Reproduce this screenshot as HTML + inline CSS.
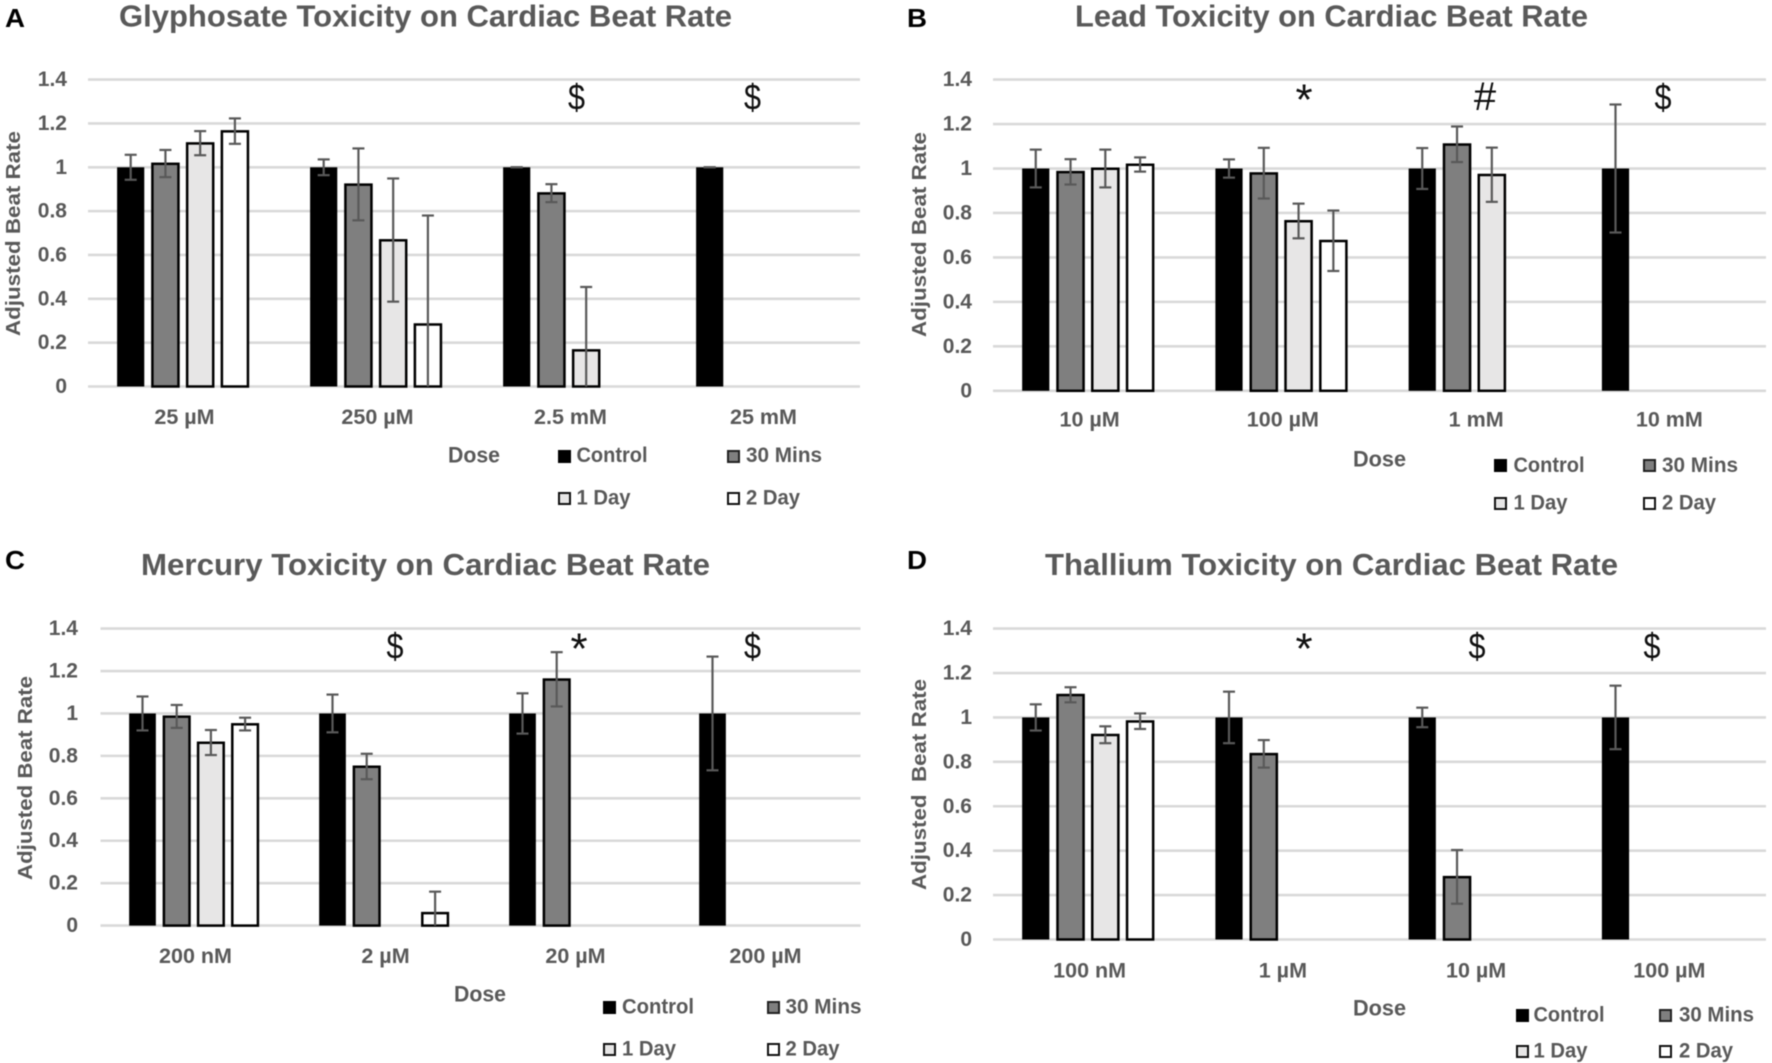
<!DOCTYPE html>
<html lang="en">
<head>
<meta charset="utf-8">
<title>Toxicity on Cardiac Beat Rate</title>
<style>
html,body{margin:0;padding:0;background:#fff}
svg{display:block;filter:blur(0.4px)}
text{font-family:"Liberation Sans",sans-serif}
.title{font-size:31px;font-weight:700;fill:#595959}
.letter{font-size:26px;font-weight:700;fill:#000}
.ytitle{font-size:20px;font-weight:700;fill:#595959}
.dose{font-size:22px;font-weight:700;fill:#595959;dominant-baseline:central}
.leg{font-size:21px;font-weight:700;fill:#595959;dominant-baseline:central}
.mark{font-size:36px;fill:#111;text-anchor:middle;dominant-baseline:central}
.star{font-size:44px;fill:#111;text-anchor:middle;dominant-baseline:central}
.hash{font-size:40px;fill:#111;text-anchor:middle;dominant-baseline:central}
.tick{font-size:21px;font-weight:700;fill:#595959;dominant-baseline:central}
.cat{font-size:21.5px;font-weight:700;fill:#595959;dominant-baseline:central;text-anchor:middle}
</style>
</head>
<body>
<svg id="figure" xmlns="http://www.w3.org/2000/svg" width="1772" height="1063" viewBox="0 0 1772 1063">
  <rect width="1772" height="1063" fill="#fff"/>

  <g id="panel-a">
    <text class="letter" x="5" y="27" textLength="20" lengthAdjust="spacingAndGlyphs">A</text>
    <text class="title" x="119" y="26.5" textLength="613" lengthAdjust="spacingAndGlyphs">Glyphosate Toxicity on Cardiac Beat Rate</text>
    <text class="ytitle" transform="translate(20,336) rotate(-90)" textLength="205" lengthAdjust="spacingAndGlyphs">Adjusted Beat Rate</text>
    <text class="dose" x="448" y="455" textLength="52" lengthAdjust="spacingAndGlyphs">Dose</text>
    <text class="mark" x="576.5" y="97" textLength="17" lengthAdjust="spacingAndGlyphs">$</text>
    <text class="mark" x="752.5" y="97" textLength="17" lengthAdjust="spacingAndGlyphs">$</text>
    <g>
      <rect x="559" y="451" width="11" height="11" fill="#000" stroke="#000" stroke-width="2"/>
      <text class="leg" x="576.5" y="455.5" textLength="71" lengthAdjust="spacingAndGlyphs">Control</text>
      <rect x="728" y="451" width="11" height="11" fill="#7f7f7f" stroke="#222" stroke-width="2"/>
      <text class="leg" x="746" y="455.5" textLength="76" lengthAdjust="spacingAndGlyphs">30 Mins</text>
      <rect x="559" y="493" width="11" height="11" fill="#e7e6e6" stroke="#111" stroke-width="2"/>
      <text class="leg" x="576.5" y="498" textLength="54" lengthAdjust="spacingAndGlyphs">1 Day</text>
      <rect x="728" y="493" width="11" height="11" fill="#fff" stroke="#111" stroke-width="2"/>
      <text class="leg" x="746" y="498" textLength="54" lengthAdjust="spacingAndGlyphs">2 Day</text>
    </g>
  </g>

  <g id="panel-b">
    <text class="letter" x="907" y="27" textLength="20" lengthAdjust="spacingAndGlyphs">B</text>
    <text class="title" x="1075" y="26.5" textLength="513" lengthAdjust="spacingAndGlyphs">Lead Toxicity on Cardiac Beat Rate</text>
    <text class="ytitle" transform="translate(926,337) rotate(-90)" textLength="205" lengthAdjust="spacingAndGlyphs">Adjusted Beat Rate</text>
    <text class="dose" x="1353" y="459" textLength="53" lengthAdjust="spacingAndGlyphs">Dose</text>
    <text class="star" x="1304" y="100">*</text>
    <text class="hash" x="1485" y="97">#</text>
    <text class="mark" x="1663" y="97" textLength="17" lengthAdjust="spacingAndGlyphs">$</text>
    <g>
      <rect x="1495" y="460" width="11" height="11" fill="#000" stroke="#000" stroke-width="2"/>
      <text class="leg" x="1513.5" y="465.5" textLength="71" lengthAdjust="spacingAndGlyphs">Control</text>
      <rect x="1644" y="460" width="11" height="11" fill="#7f7f7f" stroke="#222" stroke-width="2"/>
      <text class="leg" x="1662" y="465.5" textLength="76" lengthAdjust="spacingAndGlyphs">30 Mins</text>
      <rect x="1495" y="498" width="11" height="11" fill="#e7e6e6" stroke="#111" stroke-width="2"/>
      <text class="leg" x="1513.5" y="503" textLength="54" lengthAdjust="spacingAndGlyphs">1 Day</text>
      <rect x="1644" y="498" width="11" height="11" fill="#fff" stroke="#111" stroke-width="2"/>
      <text class="leg" x="1662" y="503" textLength="54" lengthAdjust="spacingAndGlyphs">2 Day</text>
    </g>
  </g>

  <g id="panel-c">
    <text class="letter" x="5" y="569" textLength="20" lengthAdjust="spacingAndGlyphs">C</text>
    <text class="title" x="141" y="575" textLength="569" lengthAdjust="spacingAndGlyphs">Mercury Toxicity on Cardiac Beat Rate</text>
    <text class="ytitle" transform="translate(32,880) rotate(-90)" textLength="204" lengthAdjust="spacingAndGlyphs">Adjusted Beat Rate</text>
    <text class="dose" x="454" y="994" textLength="52" lengthAdjust="spacingAndGlyphs">Dose</text>
    <text class="mark" x="395" y="646" textLength="17" lengthAdjust="spacingAndGlyphs">$</text>
    <text class="star" x="579" y="649">*</text>
    <text class="mark" x="752.5" y="646" textLength="17" lengthAdjust="spacingAndGlyphs">$</text>
    <g>
      <rect x="604" y="1002" width="11" height="11" fill="#000" stroke="#000" stroke-width="2"/>
      <text class="leg" x="622" y="1007" textLength="72" lengthAdjust="spacingAndGlyphs">Control</text>
      <rect x="768" y="1002" width="11" height="11" fill="#7f7f7f" stroke="#222" stroke-width="2"/>
      <text class="leg" x="785.5" y="1007" textLength="76" lengthAdjust="spacingAndGlyphs">30 Mins</text>
      <rect x="604" y="1044" width="11" height="11" fill="#e7e6e6" stroke="#111" stroke-width="2"/>
      <text class="leg" x="622" y="1049" textLength="54" lengthAdjust="spacingAndGlyphs">1 Day</text>
      <rect x="768" y="1044" width="11" height="11" fill="#fff" stroke="#111" stroke-width="2"/>
      <text class="leg" x="785.5" y="1049" textLength="54" lengthAdjust="spacingAndGlyphs">2 Day</text>
    </g>
  </g>

  <g id="panel-d">
    <text class="letter" x="907" y="569" textLength="20" lengthAdjust="spacingAndGlyphs">D</text>
    <text class="title" x="1045" y="575" textLength="573" lengthAdjust="spacingAndGlyphs">Thallium Toxicity on Cardiac Beat Rate</text>
    <text class="ytitle" xml:space="preserve" transform="translate(926,890) rotate(-90)" textLength="211" lengthAdjust="spacingAndGlyphs">Adjusted  Beat Rate</text>
    <text class="dose" x="1353" y="1008" textLength="53" lengthAdjust="spacingAndGlyphs">Dose</text>
    <text class="star" x="1304" y="649">*</text>
    <text class="mark" x="1477" y="646" textLength="17" lengthAdjust="spacingAndGlyphs">$</text>
    <text class="mark" x="1652" y="646" textLength="17" lengthAdjust="spacingAndGlyphs">$</text>
    <g>
      <rect x="1517" y="1010" width="11" height="11" fill="#000" stroke="#000" stroke-width="2"/>
      <text class="leg" x="1533.5" y="1015" textLength="71" lengthAdjust="spacingAndGlyphs">Control</text>
      <rect x="1660" y="1010" width="11" height="11" fill="#7f7f7f" stroke="#222" stroke-width="2"/>
      <text class="leg" x="1679" y="1015" textLength="75" lengthAdjust="spacingAndGlyphs">30 Mins</text>
      <rect x="1517" y="1046" width="11" height="11" fill="#e7e6e6" stroke="#111" stroke-width="2"/>
      <text class="leg" x="1533.5" y="1051" textLength="54" lengthAdjust="spacingAndGlyphs">1 Day</text>
      <rect x="1660" y="1046" width="11" height="11" fill="#fff" stroke="#111" stroke-width="2"/>
      <text class="leg" x="1679" y="1051" textLength="54" lengthAdjust="spacingAndGlyphs">2 Day</text>
    </g>
  </g>
</svg>

<script>
const tickValues = [0, 0.2, 0.4, 0.6, 0.8, 1, 1.2, 1.4];
const tickLabels = ["0", "0.2", "0.4", "0.6", "0.8", "1", "1.2", "1.4"];
const seriesNames = ["control", "30-mins", "1-day", "2-day"];

// Glyphosate
const glyphosateDoses = ["25 µM", "250 µM", "2.5 mM", "25 mM"];
const glyphosateControl = [1, 1, 1, 1];
const glyphosateControlErr = [0.057, 0.036, 0, 0];
const glyphosate30Min = [1.017, 0.922, 0.882, null];
const glyphosate30MinErr = [0.062, 0.164, 0.041, null];
const glyphosate1Day = [1.11, 0.668, 0.166, null];
const glyphosate1DayErr = [0.055, 0.281, 0.288, null];
const glyphosate2Day = [1.165, 0.284, null, null];
const glyphosate2DayErr = [0.058, 0.496, null, null];

// Lead
const leadDoses = ["10 µM", "100 µM", "1 mM", "10 mM"];
const leadControl = [1, 1, 1, 1];
const leadControlErr = [0.085, 0.041, 0.092, 0.288];
const lead30Min = [0.985, 0.979, 1.109, null];
const lead30MinErr = [0.057, 0.114, 0.08, null];
const lead1Day = [1.0, 0.764, 0.972, null];
const lead1DayErr = [0.085, 0.078, 0.122, null];
const lead2Day = [1.018, 0.675, null, null];
const lead2DayErr = [0.032, 0.136, null, null];

// Mercury
const mercuryDoses = ["200 nM", "2 µM", "20 µM", "200 µM"];
const mercuryControl = [1, 1, 1, 1];
const mercuryControlErr = [0.08, 0.089, 0.095, 0.268];
const mercury30Min = [0.986, 0.75, 1.161, null];
const mercury30MinErr = [0.054, 0.06, 0.128, null];
const mercury1Day = [0.863, null, null, null];
const mercury1DayErr = [0.059, null, null, null];
const mercury2Day = [0.95, 0.06, null, null];
const mercury2DayErr = [0.03, 0.1, null, null];

// Thallium
const thalliumDoses = ["100 nM", "1 µM", "10 µM", "100 µM"];
const thalliumControl = [1, 1, 1, 1];
const thalliumControlErr = [0.059, 0.116, 0.044, 0.143];
const thallium30Min = [1.102, 0.836, 0.282, null];
const thallium30MinErr = [0.034, 0.062, 0.121, null];
const thallium1Day = [0.922, null, null, null];
const thallium1DayErr = [0.038, null, null, null];
const thallium2Day = [0.983, null, null, null];
const thallium2DayErr = [0.035, null, null, null];

const SVG_NS = "http://www.w3.org/2000/svg";
const seriesFill = ["#000000", "#7f7f7f", "#e7e6e6", "#ffffff"];
const AXIS_MAX = 1.4;

function make(parent, tag, props) {
  const el = document.createElementNS(SVG_NS, tag);
  for (const k in props) el.setAttribute(k, props[k]);
  parent.appendChild(el);
  return el;
}

function drawPanel(panelId, key, box, doses, values, errors) {
  const root = document.getElementById(panelId);
  const g = document.createElementNS(SVG_NS, "g");
  
  
  root.insertBefore(g, root.firstChild);

  const yOf = v => box.base - (v / AXIS_MAX) * (box.base - box.top);
  const groupW = (box.right - box.left) / doses.length;
  const groupX = i => box.left + groupW * (i + 0.5);
  const step = groupW * 0.18;
  const barW = groupW * 0.148;
  const barCenter = (i, s) => groupX(i) - 1.7 + (s - 1.5) * step;

  tickValues.forEach((t, i) => {
    const line = make(g, "line", {x1: box.left, x2: box.right, y1: yOf(t), y2: yOf(t), stroke: "#d9d9d9", "stroke-width": 2.6});
    
    
    const label = make(g, "text", {class: "tick", x: box.tickRight, y: yOf(t), "text-anchor": "end"});
    label.textContent = tickLabels[i];
    
    
  });

  doses.forEach((d, i) => {
    const label = make(g, "text", {class: "cat", x: groupX(i), y: box.catY});
    label.textContent = d;
    
    
  });

  values.forEach((series, s) => {
    series.forEach((v, i) => {
      if (v === null) return;
      const cx = barCenter(i, s);
      const sw = s === 0 ? 0 : 2.5;
      const w = s === 0 ? barW - 1.4 : barW;
      const bar = make(g, "rect", {
        x: cx - w / 2 + sw / 2, y: yOf(v) + sw / 2 - (s === 0 ? 0 : 1),
        width: w - sw, height: Math.max(yOf(0) - yOf(v) - sw / 2 + (s === 0 ? 0 : 1), 0),
        fill: seriesFill[s], stroke: "#000", "stroke-width": sw
      });
      
      
    });
  });

  errors.forEach((series, s) => {
    series.forEach((e, i) => {
      if (e === null) return;
      const v = values[s][i];
      const cx = barCenter(i, s);
      const hi = yOf(v + e);
      const lowVal = v - e;
      const lo = yOf(Math.max(lowVal, 0));
      const stem = make(g, "line", {x1: cx, x2: cx, y1: hi, y2: lo, stroke: "#595959", "stroke-width": 2.2});
      
      
      const capTop = make(g, "line", {x1: cx - 6, x2: cx + 6, y1: hi, y2: hi, stroke: "#595959", "stroke-width": 2.2});
      
      
      if (lowVal > 0) {
        const capLow = make(g, "line", {x1: cx - 6, x2: cx + 6, y1: lo, y2: lo, stroke: "#595959", "stroke-width": 2.2});
        
        
      }
    });
  });
}

drawPanel("panel-a", "glyphosate", {left: 88, right: 860, top: 79.6, base: 386.5, tickRight: 67, catY: 417},
  glyphosateDoses,
  [glyphosateControl, glyphosate30Min, glyphosate1Day, glyphosate2Day],
  [glyphosateControlErr, glyphosate30MinErr, glyphosate1DayErr, glyphosate2DayErr]);

drawPanel("panel-b", "lead", {left: 993, right: 1766, top: 79.6, base: 390.8, tickRight: 972, catY: 419.5},
  leadDoses,
  [leadControl, lead30Min, lead1Day, lead2Day],
  [leadControlErr, lead30MinErr, lead1DayErr, lead2DayErr]);

drawPanel("panel-c", "mercury", {left: 100.5, right: 860.5, top: 628.6, base: 925.6, tickRight: 78, catY: 956},
  mercuryDoses,
  [mercuryControl, mercury30Min, mercury1Day, mercury2Day],
  [mercuryControlErr, mercury30MinErr, mercury1DayErr, mercury2DayErr]);

drawPanel("panel-d", "thallium", {left: 993, right: 1766, top: 628.6, base: 939.5, tickRight: 972, catY: 970.5},
  thalliumDoses,
  [thalliumControl, thallium30Min, thallium1Day, thallium2Day],
  [thalliumControlErr, thallium30MinErr, thallium1DayErr, thallium2DayErr]);
</script>
</body>
</html>
